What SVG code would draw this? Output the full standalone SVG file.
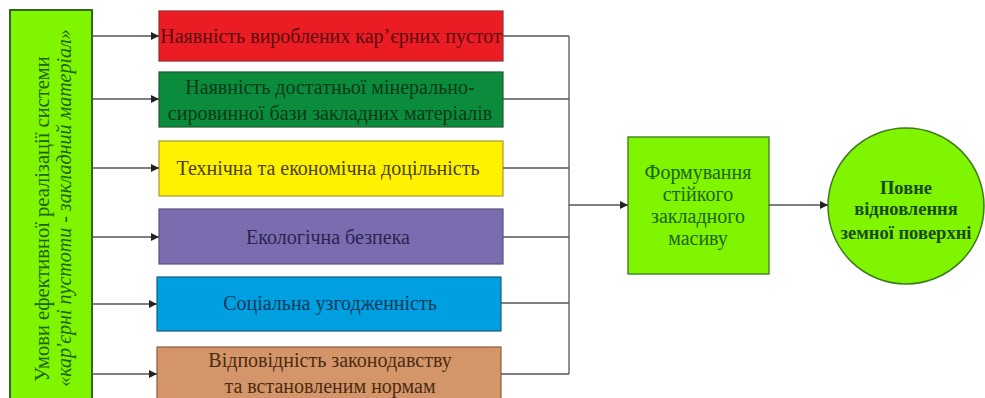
<svg xmlns="http://www.w3.org/2000/svg" width="985" height="398" viewBox="0 0 985 398">
<defs>
<marker id="ah" viewBox="0 0 10 10" refX="10" refY="5" markerWidth="10" markerHeight="8" markerUnits="userSpaceOnUse" orient="auto">
<path d="M0,0 L10,5 L0,10 z" fill="#222"/>
</marker>
</defs>
<style>
text{font-family:"Liberation Serif","Times New Roman",serif;text-anchor:middle}
.t{font-size:20px}
.c line{stroke:#555;stroke-width:1.3;fill:none}
.a{marker-end:url(#ah)}
</style>
<rect width="985" height="398" fill="#fff"/>
<g id="conditions">
<rect x="10" y="10" width="82" height="395" fill="#80f500" stroke="#2f6a1a" stroke-width="2"/>
<text transform="translate(49,219) rotate(-90)" font-size="20.5" fill="#1d6410">Умови ефективної реалізації системи</text>
<text transform="translate(71,208) rotate(-90)" font-size="20" font-style="italic" fill="#1d6410">«кар'єрні пустоти - закладний матеріал»</text>
</g>
<g id="n1">
<rect x="159" y="11" width="344" height="50" fill="#ec1c24" stroke="#9a2a2a" stroke-width="1.2"/>
<text class="t" x="331" y="43" fill="#5a0d0d">Наявність вироблених кар’єрних пустот</text>
</g>
<g id="n2">
<rect x="159" y="72" width="344" height="55" fill="#0a8c3c" stroke="#1e5a30" stroke-width="1.2"/>
<text class="t" x="330" y="94" fill="#083a18">Наявність достатньої мінерально-</text>
<text class="t" x="330" y="120" fill="#083a18">сировинної бази закладних матеріалів</text>
</g>
<g id="n3">
<rect x="159" y="141" width="344" height="55" fill="#fff200" stroke="#a89a30" stroke-width="1.2"/>
<text class="t" x="328" y="175" fill="#4a4200">Технічна та економічна доцільність</text>
</g>
<g id="n4">
<rect x="159" y="209" width="344" height="55" fill="#7b6cb0" stroke="#5a5080" stroke-width="1.2"/>
<text class="t" x="328" y="244" fill="#2c2450">Екологічна безпека</text>
</g>
<g id="n5">
<rect x="157" y="277" width="344" height="54" fill="#00a0e0" stroke="#1a5a80" stroke-width="1.2"/>
<text class="t" x="330" y="310" fill="#0a3a5c">Соціальна узгодженність</text>
</g>
<g id="n6">
<rect x="157" y="347" width="344" height="60" fill="#d4956a" stroke="#8a5e3a" stroke-width="1.2"/>
<text class="t" x="330" y="367" fill="#4a2c10">Відповідність законодавству</text>
<text class="t" x="330" y="393" fill="#4a2c10">та встановленим нормам</text>
</g>
<g id="formation">
<rect x="628" y="137" width="141" height="137" fill="#80f500" stroke="#4a8a2a" stroke-width="1.5"/>
<text x="698" y="179" font-size="20" fill="#1d6410">Формування</text>
<text x="698" y="201" font-size="20" fill="#1d6410">стійкого</text>
<text x="698" y="223" font-size="20" fill="#1d6410">закладного</text>
<text x="698" y="245" font-size="20" fill="#1d6410">масиву</text>
</g>
<g id="restoration">
<circle cx="906" cy="206" r="78" fill="#80f500" stroke="#3f7a20" stroke-width="1.5"/>
<text x="906" y="194" font-size="18.5" font-weight="bold" fill="#1a4a14">Повне</text>
<text x="906" y="215" font-size="18.5" font-weight="bold" fill="#1a4a14">відновлення</text>
<text x="906" y="239" font-size="18.5" font-weight="bold" fill="#1a4a14">земної поверхні</text>
</g>
<g class="c" id="connectors">
<line class="a" x1="92" y1="36" x2="159" y2="36"/>
<line class="a" x1="92" y1="99" x2="159" y2="99"/>
<line class="a" x1="92" y1="168" x2="159" y2="168"/>
<line class="a" x1="92" y1="237" x2="159" y2="237"/>
<line class="a" x1="92" y1="304" x2="157" y2="304"/>
<line class="a" x1="92" y1="374" x2="157" y2="374"/>
<line x1="503" y1="36" x2="569" y2="36"/>
<line x1="503" y1="99" x2="569" y2="99"/>
<line x1="503" y1="168" x2="569" y2="168"/>
<line x1="503" y1="237" x2="569" y2="237"/>
<line x1="501" y1="303" x2="569" y2="303"/>
<line x1="501" y1="374" x2="569" y2="374"/>
<line x1="569" y1="36" x2="569" y2="374"/>
<line class="a" x1="569" y1="205" x2="628" y2="205"/>
<line class="a" x1="769" y1="205" x2="828" y2="205"/>
</g>
</svg>
